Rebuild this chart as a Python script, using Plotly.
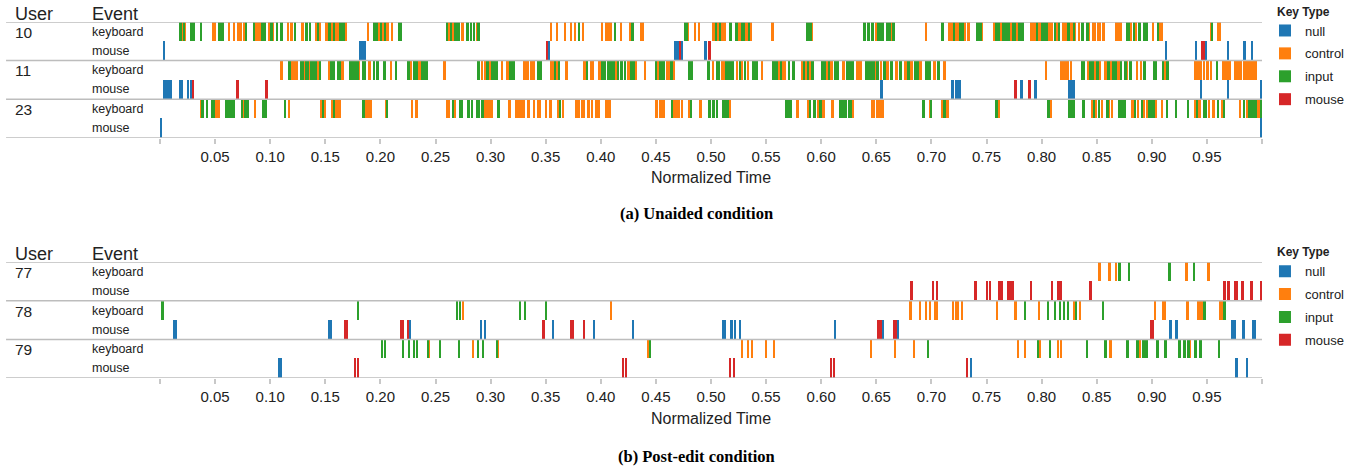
import plotly.graph_objects as go

# ---------------- data ----------------
KEY_TYPES = ["null", "control", "input", "mouse"]
CODES = {"n": "null", "c": "control", "i": "input", "m": "mouse"}
COLORS = {"null": "#1f77b4", "control": "#ff7f0e", "input": "#2ca02c", "mouse": "#d62728"}
EVENTS = ["keyboard", "mouse"]
TOP_USERS = ["10", "11", "23"]
BOTTOM_USERS = ["77", "78", "79"]
TICK_VALUES = [0.0, 0.05, 0.10, 0.15, 0.20, 0.25, 0.30, 0.35, 0.40, 0.45, 0.50,
               0.55, 0.60, 0.65, 0.70, 0.75, 0.80, 0.85, 0.90, 0.95, 1.0]
TICK_LABELS = ["", "0.05", "0.10", "0.15", "0.20", "0.25", "0.30", "0.35", "0.40", "0.45", "0.50",
               "0.55", "0.60", "0.65", "0.70", "0.75", "0.80", "0.85", "0.90", "0.95", ""]

# each event: [start, end, key type code] in normalized time
u10_keyboard = [
    [0.0173,0.020,'i'],[0.020,0.0212,'c'],[0.0212,0.0224,'i'],[0.0224,0.0239,'c'],[0.027,0.0315,'i'],
    [0.0364,0.0379,'i'],[0.0473,0.0509,'c'],[0.0527,0.0582,'i'],[0.0621,0.0636,'c'],[0.0664,0.0679,'c'],
    [0.0697,0.0748,'c'],[0.0758,0.0773,'c'],[0.0779,0.0791,'i'],[0.0845,0.0864,'i'],[0.0864,0.0915,'c'],
    [0.0918,0.096,'i'],[0.0985,0.1,'c'],[0.1,0.1021,'i'],[0.1021,0.1036,'c'],[0.1051,0.107,'i'],
    [0.1097,0.1112,'i'],[0.1157,0.1172,'c'],[0.1185,0.1203,'c'],[0.1221,0.1236,'i'],[0.1287,0.1303,'c'],
    [0.1318,0.1342,'i'],[0.1354,0.1372,'i'],[0.1415,0.1427,'c'],[0.1433,0.1445,'i'],[0.1445,0.146,'c'],
    [0.1505,0.1523,'c'],[0.1523,0.1548,'i'],[0.1548,0.1566,'c'],[0.1566,0.159,'i'],[0.159,0.162,'c'],
    [0.162,0.1681,'i'],[0.1681,0.1699,'c'],[0.1875,0.1899,'c'],[0.1929,0.1977,'i'],[0.1977,0.1999,'c'],
    [0.1999,0.2014,'i'],[0.2014,0.2035,'c'],[0.2035,0.205,'i'],[0.205,0.2074,'c'],[0.2092,0.2117,'c'],
    [0.2156,0.2192,'i'],[0.2592,0.2613,'i'],[0.2613,0.2637,'c'],[0.2637,0.2649,'i'],[0.2649,0.2664,'c'],
    [0.2664,0.2719,'i'],[0.2731,0.2755,'c'],[0.2773,0.28,'i'],[0.2809,0.2831,'i'],[0.2837,0.2861,'i'],
    [0.2873,0.2885,'c'],[0.2885,0.29,'i'],
    [0.3545,0.3561,'c'],[0.36,0.3615,'c'],[0.3672,0.3688,'c'],[0.3727,0.3742,'c'],[0.376,0.3775,'c'],
    [0.38,0.3815,'i'],[0.3833,0.3848,'c'],[0.4008,0.4023,'c'],[0.4036,0.4081,'c'],[0.409,0.4105,'c'],
    [0.4126,0.4142,'i'],[0.4178,0.4193,'c'],[0.4263,0.4278,'c'],[0.4278,0.4305,'i'],[0.4353,0.439,'c'],
    [0.4753,0.4789,'i'],[0.4789,0.4804,'c'],[0.4853,0.4868,'c'],[0.4889,0.4904,'c'],[0.5007,0.504,'c'],
    [0.504,0.5058,'i'],[0.5058,0.5077,'c'],[0.5077,0.5095,'i'],[0.5095,0.514,'c'],[0.5161,0.5188,'i'],
    [0.5216,0.5246,'i'],[0.5246,0.5276,'c'],[0.5276,0.5313,'i'],[0.5313,0.5337,'c'],[0.5337,0.5352,'i'],
    [0.5352,0.5376,'c'],[0.5552,0.557,'c'],[0.586,0.5912,'i'],[0.5912,0.5927,'c'],
    [0.6378,0.6402,'i'],[0.6421,0.6439,'i'],[0.6451,0.6475,'i'],[0.6493,0.6508,'c'],[0.6508,0.6566,'i'],
    [0.6584,0.6629,'i'],[0.6629,0.6642,'c'],[0.6651,0.6666,'i'],[0.6947,0.6962,'c'],[0.7092,0.711,'i'],
    [0.7147,0.7201,'c'],[0.7201,0.7216,'i'],[0.7216,0.7247,'c'],[0.7247,0.7292,'i'],[0.7292,0.7316,'c'],
    [0.7322,0.7347,'c'],[0.7407,0.7456,'i'],[0.7456,0.7468,'c'],[0.7558,0.7577,'c'],[0.7577,0.7619,'i'],
    [0.7619,0.7643,'c'],[0.7643,0.771,'i'],[0.771,0.7734,'c'],[0.7734,0.777,'i'],[0.777,0.7788,'c'],
    [0.7788,0.7837,'i'],[0.7891,0.7952,'c'],[0.7952,0.7967,'i'],[0.797,0.7997,'c'],[0.7997,0.8058,'i'],
    [0.8058,0.8079,'c'],[0.8085,0.8103,'c'],[0.8115,0.8133,'i'],[0.8133,0.8152,'c'],[0.8152,0.817,'i'],
    [0.8182,0.823,'c'],[0.8239,0.8254,'i'],[0.826,0.8285,'c'],[0.8285,0.8303,'i'],[0.8303,0.8315,'c'],
    [0.8333,0.8351,'c'],[0.836,0.8381,'i'],[0.8406,0.843,'i'],[0.843,0.8436,'c'],
    [0.8461,0.8491,'c'],[0.85,0.8536,'c'],[0.8545,0.8576,'c'],[0.8666,0.8727,'c'],[0.8766,0.8803,'i'],
    [0.8803,0.8818,'c'],[0.8827,0.8848,'i'],[0.8848,0.8869,'c'],[0.8878,0.8899,'i'],[0.8924,0.8963,'i'],
    [0.9005,0.902,'c'],[0.9051,0.9069,'i'],[0.9069,0.9105,'c'],[0.9529,0.9544,'c'],[0.9544,0.9553,'i'],
    [0.9589,0.9626,'c'],
]
u10_mouse = [
    [0.003,0.0045,'n'],[0.1802,0.1838,'n'],[0.1847,0.1865,'n'],[0.3506,0.3518,'m'],[0.3518,0.3536,'n'],
    [0.4662,0.4711,'n'],[0.4711,0.472,'m'],[0.472,0.4744,'n'],[0.4943,0.4961,'n'],[0.497,0.4998,'m'],
    [0.9123,0.9142,'n'],[0.9393,0.9408,'n'],[0.9447,0.9483,'m'],[0.9483,0.9502,'n'],[0.9683,0.9698,'n'],
    [0.9831,0.9853,'n'],[0.9901,0.9916,'n'],
]
u11_keyboard = [
    [0.1094,0.1112,'c'],[0.1166,0.1185,'i'],[0.1185,0.1251,'c'],[0.1266,0.1303,'i'],[0.1303,0.1318,'c'],
    [0.1318,0.1348,'i'],[0.1348,0.1363,'c'],[0.1363,0.1424,'i'],[0.1424,0.1439,'c'],[0.1439,0.1463,'i'],
    [0.152,0.1539,'c'],[0.1539,0.1584,'i'],[0.1602,0.1645,'i'],[0.1651,0.1669,'c'],[0.1711,0.1802,'i'],
    [0.1802,0.1817,'c'],[0.1832,0.1865,'i'],[0.1893,0.1911,'c'],[0.1938,0.1953,'i'],[0.1962,0.1983,'i'],
    [0.202,0.205,'i'],[0.2083,0.2108,'c'],[0.2129,0.215,'i'],[0.2247,0.2265,'i'],[0.2265,0.2286,'c'],
    [0.2295,0.2338,'i'],[0.2347,0.2365,'c'],[0.2365,0.2428,'i'],[0.2574,0.2592,'c'],[0.2882,0.29,'i'],
    [0.2909,0.2928,'c'],[0.2946,0.2964,'c'],[0.2964,0.2982,'i'],[0.2982,0.3003,'c'],[0.3003,0.3067,'i'],
    [0.3091,0.3115,'c'],[0.3148,0.3164,'c'],[0.3164,0.3224,'i'],[0.3291,0.3345,'c'],[0.3354,0.3406,'c'],
    [0.3418,0.3466,'i'],
    [0.3536,0.3573,'c'],[0.3573,0.3597,'i'],[0.3597,0.3618,'c'],[0.3618,0.3633,'i'],[0.3672,0.3703,'c'],
    [0.3839,0.3869,'c'],[0.3869,0.3881,'i'],[0.3899,0.3936,'c'],[0.3975,0.3999,'c'],[0.3999,0.4045,'i'],
    [0.4054,0.4126,'i'],[0.4126,0.4148,'c'],[0.4148,0.4166,'i'],[0.4172,0.4202,'i'],[0.4208,0.4232,'i'],
    [0.4238,0.4269,'c'],[0.4269,0.4308,'i'],[0.4308,0.4329,'c'],[0.4399,0.4414,'c'],[0.4489,0.4511,'i'],
    [0.4511,0.4529,'c'],[0.4529,0.458,'i'],[0.4595,0.4632,'c'],[0.4632,0.4656,'i'],[0.4656,0.4671,'c'],
    [0.4789,0.4834,'i'],[0.4971,0.4989,'i'],[0.5013,0.5025,'c'],[0.5049,0.508,'i'],[0.5095,0.5125,'c'],
    [0.5125,0.5207,'i'],[0.5231,0.5249,'c'],[0.5255,0.527,'i'],[0.527,0.5291,'c'],[0.5297,0.5322,'i'],
    [0.5328,0.5346,'c'],[0.537,0.5425,'i'],[0.5461,0.5476,'c'],[0.5552,0.5582,'i'],[0.5588,0.5606,'i'],
    [0.5612,0.563,'c'],[0.563,0.5648,'i'],[0.5648,0.5685,'c'],[0.57,0.5721,'i'],[0.5739,0.5763,'i'],
    [0.5815,0.5836,'c'],[0.5836,0.5857,'i'],[0.5857,0.5872,'c'],[0.5872,0.5891,'i'],[0.5891,0.5909,'c'],
    [0.5909,0.5933,'i'],
    [0.6003,0.6021,'i'],[0.6027,0.6045,'i'],[0.6051,0.6067,'c'],[0.6067,0.6082,'i'],[0.6082,0.6106,'c'],
    [0.6112,0.6166,'i'],[0.6197,0.6212,'c'],[0.6221,0.6294,'i'],[0.6324,0.6339,'c'],[0.6342,0.6366,'c'],
    [0.6393,0.6484,'i'],[0.6484,0.6499,'c'],[0.6499,0.652,'i'],[0.6539,0.6554,'c'],[0.6566,0.6584,'i'],
    [0.6596,0.6614,'c'],[0.6626,0.6651,'i'],[0.6675,0.6693,'c'],[0.6711,0.6729,'i'],[0.6747,0.6778,'c'],
    [0.6778,0.6802,'i'],[0.6802,0.6832,'c'],[0.6838,0.6887,'i'],[0.6887,0.6917,'c'],[0.6938,0.6999,'i'],
    [0.702,0.7038,'c'],[0.705,0.7074,'i'],[0.7104,0.7135,'c'],[0.8037,0.8052,'c'],[0.8164,0.8248,'c'],
    [0.8263,0.8279,'c'],[0.8354,0.8394,'i'],
    [0.8409,0.843,'c'],[0.843,0.8476,'i'],[0.8476,0.8494,'c'],[0.85,0.8518,'i'],[0.8524,0.8542,'c'],
    [0.8567,0.8591,'c'],[0.8591,0.8621,'i'],[0.8621,0.8639,'c'],[0.8639,0.8682,'i'],[0.8682,0.8712,'c'],
    [0.8712,0.8733,'i'],[0.8748,0.8772,'i'],[0.8772,0.8787,'c'],[0.8794,0.8821,'i'],[0.8857,0.8878,'c'],
    [0.8893,0.8915,'c'],[0.8924,0.8945,'i'],[0.9011,0.9045,'i'],[0.9093,0.9111,'i'],[0.9111,0.9129,'c'],
    [0.9129,0.9154,'i'],[0.9384,0.9456,'c'],[0.9468,0.9483,'c'],[0.9499,0.9517,'c'],[0.9535,0.955,'c'],
    [0.9586,0.9604,'i'],[0.9635,0.9719,'c'],[0.9744,0.9816,'c'],[0.9831,0.9952,'c'],
]
u11_mouse = [
    [0.003,0.0112,'n'],[0.0173,0.0206,'n'],[0.0242,0.0267,'n'],[0.0279,0.0294,'n'],[0.0294,0.0312,'m'],
    [0.0691,0.0715,'m'],[0.0952,0.0979,'m'],[0.6539,0.6557,'n'],[0.7183,0.7201,'n'],[0.721,0.7265,'n'],
    [0.7755,0.7773,'m'],[0.781,0.7828,'n'],[0.7882,0.79,'m'],[0.794,0.7958,'n'],[0.8239,0.83,'n'],
    [0.9438,0.9456,'n'],[0.9683,0.9698,'n'],[0.9983,1.0,'n'],
]
u23_keyboard = [
    [0.0367,0.0379,'c'],[0.0379,0.0397,'i'],[0.0421,0.0439,'i'],[0.0467,0.0479,'i'],[0.0488,0.0503,'i'],
    [0.0503,0.0548,'c'],[0.0591,0.0682,'i'],[0.0736,0.0752,'i'],[0.0752,0.0767,'c'],[0.0767,0.0785,'i'],
    [0.0794,0.0809,'i'],[0.0855,0.0873,'c'],[0.0924,0.0973,'i'],
    [0.1127,0.1145,'i'],[0.1157,0.1176,'c'],[0.1457,0.1472,'c'],[0.1472,0.1487,'i'],[0.1487,0.1502,'c'],
    [0.156,0.1578,'c'],[0.1578,0.159,'i'],[0.159,0.1638,'c'],[0.1838,0.1856,'i'],[0.1856,0.1893,'c'],
    [0.1905,0.1923,'c'],[0.2047,0.2059,'c'],[0.2059,0.2068,'i'],[0.228,0.2298,'c'],[0.2319,0.2337,'c'],
    [0.2598,0.2628,'c'],[0.2652,0.267,'i'],[0.267,0.2689,'c'],[0.2713,0.2746,'i'],[0.2791,0.2809,'i'],
    [0.2822,0.2843,'i'],[0.2864,0.2903,'i'],[0.2909,0.2943,'i'],[0.2943,0.3018,'c'],[0.3055,0.3082,'i'],
    [0.3164,0.3182,'c'],[0.3224,0.3309,'c'],[0.3339,0.3357,'c'],[0.3381,0.34,'c'],[0.3418,0.346,'c'],
    [0.349,0.3509,'c'],
    [0.3536,0.3554,'c'],[0.3609,0.3627,'c'],[0.3627,0.3636,'i'],[0.3651,0.3669,'c'],[0.3763,0.3809,'c'],
    [0.3818,0.3854,'c'],[0.3881,0.3899,'c'],[0.3912,0.393,'c'],[0.3948,0.399,'c'],[0.4042,0.4072,'c'],
    [0.4078,0.4096,'c'],[0.4499,0.4517,'c'],[0.4526,0.458,'c'],[0.4635,0.4656,'i'],[0.4656,0.4716,'c'],
    [0.4729,0.4747,'c'],[0.4798,0.481,'c'],[0.481,0.4822,'i'],[0.4898,0.4916,'c'],[0.498,0.4998,'i'],
    [0.5016,0.5034,'i'],[0.5049,0.5067,'i'],[0.5107,0.5125,'i'],[0.5131,0.5164,'i'],[0.5164,0.5176,'c'],
    [0.567,0.5709,'i'],[0.5715,0.5733,'i'],[0.5779,0.5797,'c'],[0.5879,0.5891,'c'],[0.5891,0.5903,'i'],
    [0.593,0.5949,'i'],[0.5967,0.5982,'c'],[0.5985,0.6003,'i'],[0.6015,0.6033,'c'],[0.6094,0.6112,'c'],
    [0.6166,0.6233,'i'],[0.6245,0.6275,'i'],[0.6275,0.63,'c'],[0.6448,0.649,'c'],[0.6499,0.6548,'c'],
    [0.6554,0.6572,'c'],[0.6923,0.6941,'i'],[0.6974,0.6993,'c'],[0.6993,0.7002,'i'],[0.7083,0.7104,'c'],
    [0.7104,0.7135,'i'],[0.7135,0.7159,'c'],[0.7574,0.7604,'i'],[0.7604,0.7619,'c'],[0.8055,0.8073,'i'],
    [0.8073,0.8091,'c'],[0.8236,0.8273,'i'],[0.8282,0.83,'i'],
    [0.8367,0.8394,'i'],[0.8449,0.847,'c'],[0.847,0.8488,'i'],[0.8488,0.8506,'c'],[0.8515,0.853,'i'],
    [0.8542,0.8561,'c'],[0.8591,0.8609,'i'],[0.8609,0.8621,'c'],[0.8636,0.8651,'c'],[0.8697,0.8766,'i'],
    [0.8818,0.8836,'c'],[0.8842,0.886,'i'],[0.8869,0.8887,'c'],[0.8909,0.8924,'i'],[0.8924,0.8942,'c'],
    [0.8948,0.896,'c'],[0.8963,0.903,'i'],[0.903,0.9045,'c'],[0.9081,0.9105,'c'],[0.9129,0.9148,'i'],
    [0.9211,0.9226,'i'],[0.9323,0.9341,'i'],[0.9384,0.9402,'c'],[0.9402,0.9414,'i'],[0.9423,0.9444,'c'],
    [0.9462,0.9499,'i'],[0.9514,0.9529,'c'],[0.9553,0.9571,'c'],[0.9589,0.9608,'i'],[0.9635,0.965,'c'],
    [0.965,0.9665,'i'],[0.9789,0.981,'c'],[0.9831,0.985,'i'],[0.9862,0.9877,'c'],[0.9877,0.9952,'i'],
    [0.9952,0.9983,'c'],[0.9983,0.9995,'i'],
]
u23_mouse = [[0.0,0.0018,'n'],[0.9985,1.0,'n']]

u77_keyboard = [
    [0.8518,0.8536,'c'],[0.8609,0.8627,'c'],[0.8663,0.8682,'c'],[0.87,0.8718,'i'],[0.8781,0.88,'i'],
    [0.9154,0.9172,'i'],[0.9308,0.9326,'c'],[0.9371,0.939,'i'],[0.9508,0.9526,'c'],
]
u77_mouse = [
    [0.6808,0.6835,'m'],[0.7008,0.7026,'m'],[0.7044,0.7062,'m'],[0.7389,0.7416,'m'],[0.7498,0.7516,'m'],
    [0.7525,0.7543,'m'],[0.7607,0.7652,'m'],[0.7688,0.7752,'m'],[0.7897,0.7915,'m'],[0.8088,0.8106,'m'],
    [0.8142,0.8188,'m'],[0.8427,0.8455,'m'],[0.9653,0.9671,'m'],[0.9681,0.9707,'m'],[0.9744,0.978,'m'],
    [0.9807,0.9834,'m'],[0.9898,0.9916,'m'],[0.9982,1.0,'m'],
]
u78_keyboard = [
    [0.0018,0.0036,'i'],[0.179,0.1808,'i'],[0.2688,0.2707,'i'],[0.2716,0.2734,'i'],[0.2743,0.2761,'c'],
    [0.326,0.3278,'i'],[0.3306,0.3324,'i'],[0.3495,0.3513,'i'],[0.4087,0.4105,'c'],[0.6799,0.6826,'c'],
    [0.689,0.6908,'c'],[0.6944,0.6962,'c'],[0.698,0.6998,'c'],[0.7026,0.7062,'c'],[0.7189,0.7207,'c'],
    [0.7216,0.7253,'c'],[0.727,0.7289,'c'],[0.7589,0.7607,'c'],[0.7752,0.7779,'c'],[0.7843,0.7861,'i'],
    [0.797,0.7988,'c'],[0.8051,0.807,'i'],[0.8115,0.8133,'i'],[0.816,0.8179,'i'],[0.8197,0.8215,'i'],
    [0.8233,0.8251,'i'],[0.8287,0.8306,'c'],[0.8306,0.8315,'i'],[0.8342,0.836,'c'],[0.8545,0.8564,'i'],
    [0.9017,0.9036,'c'],[0.909,0.9126,'c'],[0.9317,0.9335,'c'],[0.9417,0.9435,'c'],[0.9444,0.9462,'c'],
    [0.9471,0.9489,'i'],[0.9607,0.9644,'c'],[0.9653,0.9671,'i'],
]
u78_mouse = [
    [0.0118,0.0155,'n'],[0.1526,0.1563,'n'],[0.1672,0.1708,'m'],[0.218,0.2216,'m'],[0.2244,0.2262,'m'],
    [0.2262,0.228,'n'],[0.2906,0.2924,'n'],[0.2942,0.2961,'n'],[0.3475,0.3493,'m'],[0.3561,0.3579,'n'],
    [0.3724,0.376,'m'],[0.3842,0.386,'m'],[0.3933,0.3951,'n'],[0.4287,0.4305,'n'],[0.5104,0.514,'n'],
    [0.5176,0.5203,'n'],[0.5213,0.5231,'n'],[0.5258,0.5276,'n'],[0.6118,0.6136,'n'],[0.6508,0.6554,'m'],
    [0.6554,0.6572,'n'],[0.6654,0.669,'m'],[0.669,0.6708,'n'],[0.8981,0.9017,'m'],[0.9163,0.9181,'n'],
    [0.9208,0.9235,'n'],[0.9716,0.9762,'n'],[0.9816,0.9843,'n'],[0.9907,0.9943,'n'],
]
u79_keyboard = [
    [0.2008,0.2026,'i'],[0.2035,0.2053,'i'],[0.2198,0.2216,'i'],[0.2253,0.2271,'i'],[0.2298,0.2316,'i'],
    [0.2325,0.2343,'i'],[0.2425,0.2437,'i'],[0.2437,0.2452,'c'],[0.2534,0.2552,'i'],[0.2707,0.2725,'i'],
    [0.2834,0.2852,'c'],[0.2879,0.2897,'i'],[0.2924,0.2942,'i'],[0.3051,0.306,'i'],[0.306,0.3079,'c'],
    [0.4423,0.4441,'c'],[0.4441,0.4459,'i'],[0.5276,0.5294,'c'],[0.5331,0.5349,'c'],[0.5367,0.5385,'c'],
    [0.5494,0.5512,'c'],[0.5567,0.5585,'c'],[0.6445,0.6463,'c'],[0.6663,0.6681,'c'],[0.6835,0.6853,'c'],
    [0.6962,0.698,'i'],[0.7779,0.7797,'c'],[0.7843,0.7861,'c'],[0.7961,0.7979,'i'],[0.7979,0.7991,'c'],
    [0.807,0.8088,'i'],[0.8142,0.816,'c'],[0.8169,0.8188,'c'],[0.8405,0.8424,'i'],[0.8573,0.8591,'i'],
    [0.8618,0.8636,'c'],[0.8772,0.879,'i'],[0.8863,0.8881,'i'],[0.8881,0.8899,'c'],[0.8918,0.8936,'i'],
    [0.8945,0.8963,'i'],[0.9045,0.9063,'i'],[0.9117,0.9135,'i'],[0.9244,0.9262,'i'],[0.929,0.9308,'i'],
    [0.9326,0.9344,'i'],[0.9344,0.9356,'c'],[0.939,0.9408,'i'],[0.9435,0.9453,'i'],[0.9598,0.9617,'i'],
]
u79_mouse = [
    [0.1073,0.1109,'n'],[0.1762,0.178,'m'],[0.1789,0.1808,'m'],[0.4196,0.4214,'m'],[0.4223,0.4241,'m'],
    [0.5167,0.5185,'m'],[0.5203,0.5222,'m'],[0.6082,0.61,'m'],[0.6109,0.6127,'m'],[0.7316,0.7334,'m'],
    [0.7352,0.7371,'n'],[0.9762,0.978,'n'],[0.9852,0.9871,'n'],
]

TOP_ROWS = [u10_keyboard, u10_mouse, u11_keyboard, u11_mouse, u23_keyboard, u23_mouse]
BOTTOM_ROWS = [u77_keyboard, u77_mouse, u78_keyboard, u78_mouse, u79_keyboard, u79_mouse]

# ---------------- figure ----------------
FONT = "Liberation Sans, Arial, Helvetica, sans-serif"
SERIF = "Liberation Serif, Times New Roman, serif"
TXT = "#222222"

fig = go.Figure()

panels = [
    (TOP_ROWS, "x", "y", "legend"),
    (BOTTOM_ROWS, "x2", "y2", "legend2"),
]
for rows, xa, ya, lg in panels:
    for kt in KEY_TYPES:
        ys, bases, widths = [], [], []
        for r, events in enumerate(rows):
            for s, e, code in events:
                if CODES[code] == kt:
                    ys.append(r)
                    bases.append(s)
                    widths.append(e - s)
        fig.add_trace(go.Bar(
            orientation="h", y=ys, x=widths, base=bases, width=1.0,
            marker=dict(color=COLORS[kt], line=dict(width=0)),
            name=kt, legendgroup=lg + kt, legend=lg, xaxis=xa, yaxis=ya,
            hoverinfo="skip", showlegend=True,
        ))

axis_x = dict(range=[0, 1], tickvals=TICK_VALUES, ticktext=TICK_LABELS, ticks="outside",
              ticklen=5, tickwidth=1.5, tickcolor="#c8c8c8", showgrid=False, zeroline=False,
              showline=False, tickfont=dict(family=FONT, size=15, color=TXT), fixedrange=True)
axis_y = dict(range=[5.5, -0.5], visible=False, fixedrange=True)

legend_common = dict(xanchor="left", yanchor="top", bgcolor="rgba(0,0,0,0)",
                     font=dict(family=FONT, size=13, color=TXT), itemwidth=30,
                     traceorder="grouped", tracegroupgap=3,
                     title=dict(text="&nbsp;&nbsp;&nbsp;<b>Key Type</b>",
                                font=dict(family=FONT, size=12, color=TXT)))

fig.update_layout(
    width=1353, height=469,
    margin=dict(l=160, r=91, t=22, b=91, autoexpand=False),
    paper_bgcolor="white", plot_bgcolor="white",
    barmode="overlay", bargap=0,
    font=dict(family=FONT, color=TXT),
    xaxis=dict(axis_x, anchor="y", domain=[0, 1]),
    yaxis=dict(axis_y, domain=[0.675, 1.0]),
    xaxis2=dict(axis_x, anchor="y2", domain=[0, 1]),
    yaxis2=dict(axis_y, domain=[0.0, 0.325]),
    legend=dict(legend_common, x=1.0027, y=1.062),
    legend2=dict(legend_common, x=1.0027, y=0.386),
)

shapes = []
annotations = []
X_LINE0 = -0.1397
X_USER = -0.1335
X_EVENT = -0.0636
for (users, ya, head_y, xt_y, cap_y, cap) in [
    (TOP_USERS, "y", 1.0233, 0.5618, 0.4607, "(a) Unaided condition"),
    (BOTTOM_USERS, "y2", 0.3475, -0.1124, -0.2219, "(b) Post-edit condition"),
]:
    for yb in [-0.5, 1.5, 3.5, 5.5]:
        shapes.append(dict(type="line", xref="paper", yref=ya, x0=X_LINE0, x1=1.0, y0=yb, y1=yb,
                           line=dict(color="#bdbdbd", width=1.5), layer="above"))
    annotations.append(dict(text="User", xref="paper", yref="paper", x=X_USER, y=head_y, xanchor="left",
                            yanchor="middle", showarrow=False, font=dict(size=18, color=TXT)))
    annotations.append(dict(text="Event", xref="paper", yref="paper", x=X_EVENT, y=head_y, xanchor="left",
                            yanchor="middle", showarrow=False, font=dict(size=18, color=TXT)))
    for i, u in enumerate(users):
        annotations.append(dict(text=u, xref="paper", yref=ya, x=X_USER, y=2 * i + 0.04, xanchor="left",
                                yanchor="middle", showarrow=False, font=dict(size=15.5, color=TXT)))
        for j, ev in enumerate(EVENTS):
            annotations.append(dict(text=ev, xref="paper", yref=ya, x=X_EVENT, y=2 * i + j,
                                    xanchor="left", yanchor="middle", showarrow=False,
                                    font=dict(size=12.5, color=TXT)))
    annotations.append(dict(text="Normalized Time", xref="paper", yref="paper", x=0.5, y=xt_y,
                            xanchor="center", yanchor="middle", showarrow=False,
                            font=dict(size=16, color=TXT)))
    annotations.append(dict(text="<b>" + cap + "</b>", xref="paper", yref="paper", x=0.4864, y=cap_y,
                            xanchor="center", yanchor="middle", showarrow=False,
                            font=dict(family=SERIF, size=16.5, color="#000000")))

fig.update_layout(shapes=shapes, annotations=annotations)

# the page's default 8px body margin would shift the figure; remove it
fig.write_html("out.html", config={"displayModeBar": False},
               post_script="document.body.style.margin='0px';")
